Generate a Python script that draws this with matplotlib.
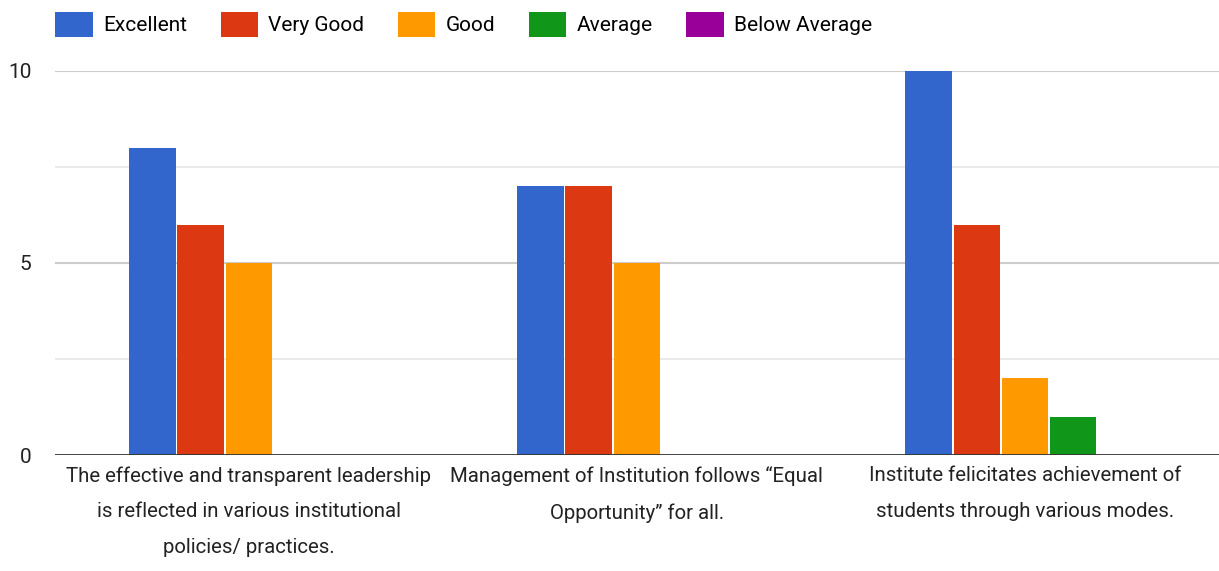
import numpy as np
import matplotlib.pyplot as plt
from matplotlib.patches import Patch

plt.rcParams['font.family'] = ['Roboto', 'DejaVu Sans']

categories = [
    "The effective and transparent leadership\nis reflected in various institutional\npolicies/ practices.",
    "Management of Institution follows \u201cEqual\nOpportunity\u201d for all.",
    "Institute felicitates achievement of\nstudents through various modes.",
]
series_names = ["Excellent", "Very Good", "Good", "Average", "Below Average"]
excellent = [8, 7, 10]
very_good = [6, 7, 6]
good = [5, 5, 2]
average = [0, 0, 1]
below_average = [0, 0, 0]
colors = ['#3366cc', '#dc3912', '#ff9900', '#109618', '#990099']

values = [excellent, very_good, good, average, below_average]

fig = plt.figure(figsize=(12.19, 5.71), dpi=100)
ax = fig.add_axes([0.045, 0.203, 0.955, 0.673])

x = np.arange(len(categories))
width = 0.124
for i, (name, vals, c) in enumerate(zip(series_names, values, colors)):
    offs = (i - 2) * width
    ax.bar(x + offs, vals, width * 0.97, color=c, label=name, zorder=3)

ax.set_xlim(-0.5, len(categories) - 0.5)
ax.set_ylim(0, 10)
ax.set_yticks([0, 5, 10])
ax.set_yticklabels(['0', '5', '10'], fontsize=15, color='#222222')
for y in [2.5, 7.5]:
    ax.axhline(y, color='#e6e6e6', linewidth=1.2, zorder=1)
for y in [5, 10]:
    ax.axhline(y, color='#cccccc', linewidth=1.5, zorder=1)
ax.axhline(0, color='#333333', linewidth=2, zorder=4)

ax.set_xticks(x)
ax.set_xticklabels(categories, fontsize=14.7, color='#222222', linespacing=2.1)
ax.tick_params(axis='both', length=0)
ax.tick_params(axis='x', pad=8)
ax.tick_params(axis='y', pad=17)
for s in ax.spines.values():
    s.set_visible(False)

handles = [Patch(facecolor=c, edgecolor='none') for c in colors]
fig.legend(handles, series_names, loc='upper left', bbox_to_anchor=(0.030, 1.012),
           ncol=5, frameon=False, fontsize=15, handlelength=1.8, handleheight=1.5,
           columnspacing=1.6, handletextpad=0.5)

plt.savefig('out.png', dpi=100)
